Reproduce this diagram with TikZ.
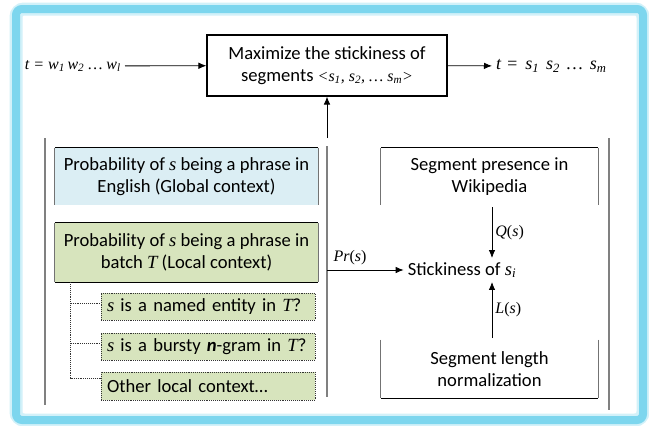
\documentclass[tikz,border=0pt]{standalone}
\usepackage{fontspec}
\setmainfont{Carlito}
\newfontfamily\tms{Liberation Serif}
\usetikzlibrary{arrows.meta,calc}
\newcommand\mi[1]{{\tms\itshape #1}}
\newcommand\tmsize{\fontsize{16}{20}\selectfont}
\definecolor{framecyan}{RGB}{125,214,238}
\definecolor{blueboxfill}{RGB}{219,238,244}
\definecolor{greenboxfill}{RGB}{215,228,189}
\definecolor{panelgray}{RGB}{128,128,128}
\begin{document}
\begin{tikzpicture}[x=1pt,y=-1pt,
  font=\fontsize{18.6}{21.5}\selectfont,
  txt/.style={align=center, inner sep=0pt},
  panel/.style={draw=panelgray, line width=1.4pt},
  arr/.style={-{Latex[length=8pt,width=6.5pt]}, line width=0.8pt},
  darkedge/.style={draw=black, line width=1pt},
  grayedge/.style={draw=black!55, line width=1pt},
  subbox/.style={fill=greenboxfill, draw=black!80, densely dotted, line width=0.9pt,
    minimum width=214pt, minimum height=27pt, text width=202pt, inner xsep=6pt, inner ysep=0pt, align=left},
  treeline/.style={draw=black!80, densely dotted, line width=0.9pt}]
\useasboundingbox (0,0) rectangle (649,426);
\fill[white] (0,0) rectangle (649,426);
% outer frame
\draw[framecyan!35, line width=13pt, rounded corners=8pt] (16,9) rectangle (643,420);
\draw[framecyan, line width=8pt, rounded corners=6pt] (16,9) rectangle (643,420);

% top row
\node[txt, draw, line width=1.1pt, minimum width=240pt, minimum height=61pt] (max) at (327,65.5)
  {Maximize the stickiness of\\segments \mi{\tmsize<s\textsubscript{1}, s\textsubscript{2}, … s\textsubscript{m}>}};
\node[inner sep=4pt, anchor=east] (tin) at (125,66) {\mi{\tmsize t = w\textsubscript{1}\,w\textsubscript{2} … w\textsubscript{l}}};
\node[inner sep=4pt, anchor=west] (tout) at (492,66) {\mi{\fontsize{18}{20}\selectfont t\hspace{5pt}=\hspace{7pt}s\textsubscript{1}\hspace{7pt}s\textsubscript{2}\hspace{7pt}…\hspace{7pt}s\textsubscript{m}}};
\draw[arr] (tin) -- (max);
\draw[arr] (max) -- (tout);
\coordinate (up0) at (327,138);
\draw[arr] (up0) -- (max.south);

% panel lines
\coordinate (pl1) at (45,138);  \coordinate (pl2) at (45,405);
\coordinate (pm1) at (327,146); \coordinate (pm2) at (327,397);
\coordinate (pr1) at (609,138); \coordinate (pr2) at (609,410);
\draw[panel] (pl1) -- (pl2);
\draw[panel] (pm1) -- (pm2);
\draw[panel] (pr1) -- (pr2);

% left panel
\node[txt, fill=blueboxfill, minimum width=263pt, minimum height=57pt] (glob) at (186.5,176.5)
  {Probability of \mi{s} being a phrase in\\English (Global context)};
\draw[darkedge] (glob.north west) -- (glob.north east);
\draw[grayedge] (glob.north west) -- (glob.south west);
\draw[grayedge] (glob.north east) -- (glob.south east);

\node[txt, fill=greenboxfill, minimum width=263pt, minimum height=59pt] (loc) at (186.5,252.5)
  {Probability of \mi{s} being a phrase in\\batch \mi{T} (Local context)};
\draw[darkedge] (loc.north west) -- (loc.north east);
\draw[darkedge] (loc.south west) -- (loc.south east);
\draw[grayedge] (loc.north west) -- (loc.south west);
\draw[grayedge] (loc.north east) -- (loc.south east);

\node[subbox] (ne) at (208,306.5) {\mi{s} is a named entity in \mi{T}?};
\node[subbox] (bg) at (208,346.5) {\mi{s} is a bursty \textbf{\textit{n}}-gram in \mi{T}?};
\node[subbox, minimum height=28pt] (ot) at (208,386) {Other local context…};
\coordinate (tr) at ($(loc.south west)+(16,0)$);
\draw[treeline] (tr) |- ($(ot.west)+(0,-8)$);
\draw[treeline] ($(tr |- ne.west)+(0,-3)$) -- ($(ne.west)+(0,-3)$);
\draw[treeline] ($(tr |- bg.west)+(0,-3)$) -- ($(bg.west)+(0,-3)$);

% right panel
\node[txt, minimum width=217pt, minimum height=57pt] (wiki) at (489.5,176.5)
  {Segment presence in\\Wikipedia};
\draw[darkedge] (wiki.north west) -- (wiki.north east);
\draw[grayedge] (wiki.north west) -- (wiki.south west);
\draw[grayedge] (wiki.north east) -- (wiki.south east);

\node[inner sep=4pt] (stick) at (462,270) {Stickiness of \mi{s\textsubscript{i}}};

\node[txt, minimum width=217pt, minimum height=58pt] (len) at (489.5,369)
  {Segment length\\normalization};
\draw[darkedge] (len.south west) -- (len.south east);
\draw[grayedge] (len.north west) -- (len.south west);
\draw[grayedge] (len.north east) -- (len.south east);

\coordinate (qtop) at (492,207);
\draw[arr] (qtop) -- (qtop |- stick.north) node[midway, right, inner sep=3pt] {{\tms\tmsize\textit{Q}(\textit{s})}};
\coordinate (lbot) at (492,338);
\draw[arr] (lbot) -- (lbot |- stick.south) node[midway, right, inner sep=3pt] {{\tms\tmsize\textit{L}(\textit{s})}};
\coordinate (prs) at (327,270);
\draw[arr] (prs) -- (stick.west) node[pos=0.3, above, inner sep=5pt] {{\tms\tmsize\textit{Pr}(\textit{s})}};
\end{tikzpicture}
\end{document}
